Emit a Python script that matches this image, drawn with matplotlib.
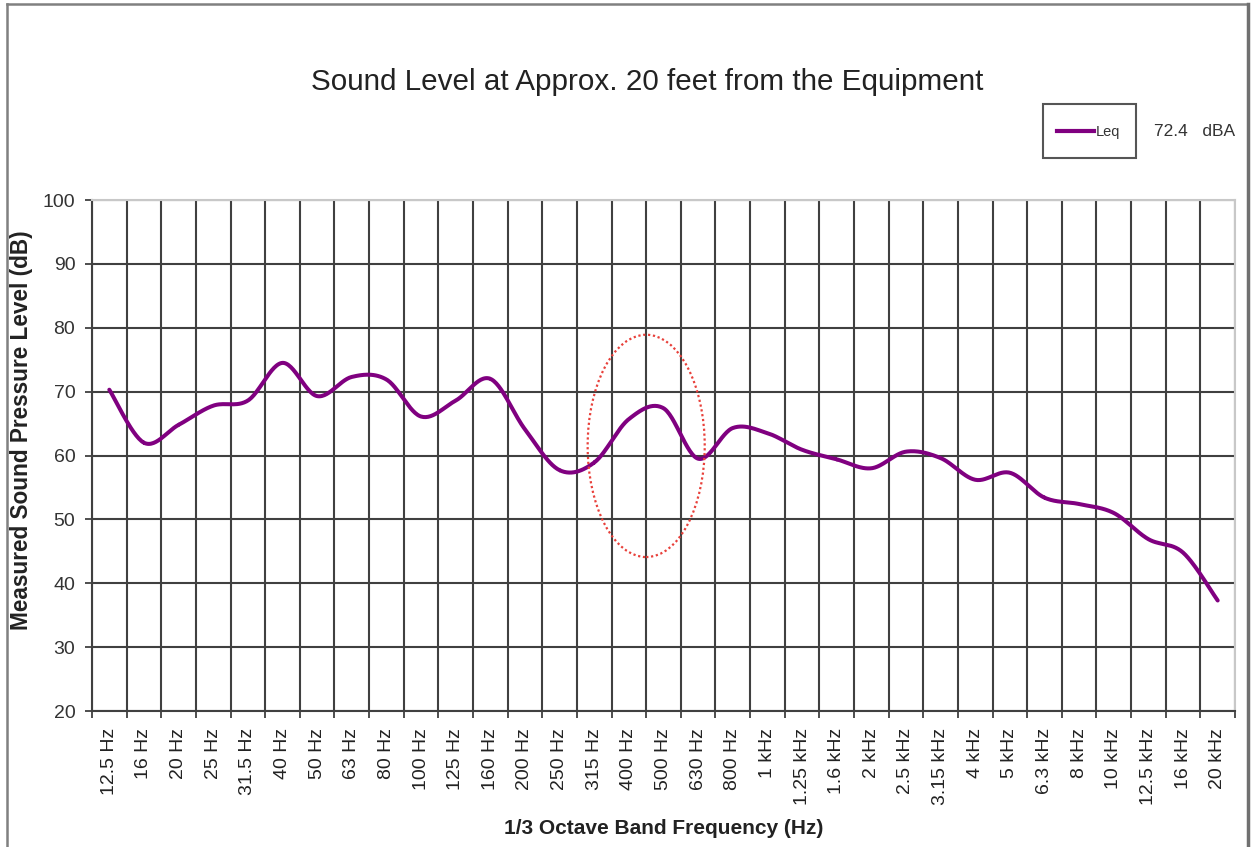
import numpy as np
import matplotlib
matplotlib.use("Agg")
import matplotlib.pyplot as plt
from matplotlib.patches import Ellipse, Rectangle
from matplotlib.lines import Line2D

plt.rcParams['font.family'] = ['Liberation Sans', 'DejaVu Sans']

categories = ["12.5 Hz", "16 Hz", "20 Hz", "25 Hz", "31.5 Hz", "40 Hz", "50 Hz", "63 Hz",
              "80 Hz", "100 Hz", "125 Hz", "160 Hz", "200 Hz", "250 Hz", "315 Hz", "400 Hz",
              "500 Hz", "630 Hz", "800 Hz", "1 kHz", "1.25 kHz", "1.6 kHz", "2 kHz", "2.5 kHz",
              "3.15 kHz", "4 kHz", "5 kHz", "6.3 kHz", "8 kHz", "10 kHz", "12.5 kHz", "16 kHz",
              "20 kHz"]
leq = [70.3, 62.0, 64.8, 67.8, 68.6, 74.5, 69.3, 72.3, 71.9, 66.1, 68.6, 72.0, 64.1,
       57.7, 58.9, 65.7, 67.4, 59.5, 64.3, 63.5, 60.9, 59.4, 58.0, 60.6, 59.6, 56.2,
       57.3, 53.4, 52.4, 51.0, 46.9, 44.8, 37.3]
series_name = "Leq"
overall_text = "72.4   dBA"
title = "Sound Level at Approx. 20 feet from the Equipment"
xlabel = "1/3 Octave Band Frequency (Hz)"
ylabel = "Measured Sound Pressure Level (dB)"
yticks = [20, 30, 40, 50, 60, 70, 80, 90, 100]

W, H = 1251, 847
fig = plt.figure(figsize=(W / 100, H / 100), dpi=100)
ax = fig.add_axes([92 / W, 1 - 711 / H, (1235 - 92) / W, (711 - 200) / H])

# smooth line (Catmull-Rom, like Excel's smoothed line)
x = np.arange(len(leq), dtype=float)
y = np.array(leq, dtype=float)
P = np.column_stack([x, y])
Pp = np.vstack([P[0], P, P[-1]])
xs, ys = [], []
for i in range(len(P) - 1):
    p0, p1, p2, p3 = Pp[i], Pp[i + 1], Pp[i + 2], Pp[i + 3]
    t = np.linspace(0, 1, 30)[:, None]
    c = 0.5 * ((2 * p1) + (-p0 + p2) * t + (2 * p0 - 5 * p1 + 4 * p2 - p3) * t ** 2
               + (-p0 + 3 * p1 - 3 * p2 + p3) * t ** 3)
    xs.extend(c[:, 0]); ys.extend(c[:, 1])
ax.plot(xs, ys, color='#800080', lw=2.9, solid_capstyle='round', zorder=4)

ax.set_xlim(-0.5, len(categories) - 0.5)
ax.set_ylim(20, 100)
ax.set_yticks(yticks)
ax.set_xticks(x)
ax.set_xticklabels(categories, rotation=90, fontsize=14, color='#222222', va='top')
ax.set_xticks(np.arange(-0.5, len(categories) + 0.5, 1.0), minor=True)
ax.tick_params(axis='x', which='major', length=0, pad=12)
ax.tick_params(axis='x', which='minor', length=5, width=1.3, color='#404040')
ax.tick_params(axis='y', which='major', length=5, width=1.3, color='#404040',
               labelsize=14, labelcolor='#333333', pad=7)
ax.grid(True, axis='y', which='major', color='#404040', lw=1.5, zorder=1)
ax.grid(True, axis='x', which='minor', color='#404040', lw=1.5, zorder=1)
for s in ['top', 'right']:
    ax.spines[s].set_color('#c8c8c8')
    ax.spines[s].set_linewidth(1.5)
for s in ['left', 'bottom']:
    ax.spines[s].set_color('#404040')
    ax.spines[s].set_linewidth(1.5)

# highlight ellipse
ax.add_patch(Ellipse((15.5, 61.5), 3.38, 34.8, fill=False, edgecolor='#e8403a',
                     lw=1.6, linestyle=(0, (1, 1.2)), zorder=5))

fig.text(647 / W, 1 - 82 / H, title, ha='center', va='center', fontsize=21.3, color='#222222')
fig.text(664 / W, 1 - 828 / H, xlabel, ha='center', va='center', fontsize=15,
         fontweight='bold', color='#222222')
fig.text(22 / W, 1 - 430 / H, ylabel, ha='center', va='center', rotation=90,
         fontsize=16.3, fontweight='bold', color='#222222')

# legend box
fig.add_artist(Rectangle((1043 / W, 1 - 158 / H), 93 / W, 54 / H, transform=fig.transFigure,
                         fill=False, edgecolor='#555555', lw=1.5))
fig.add_artist(Line2D([1057 / W, 1094 / W], [1 - 131 / H, 1 - 131 / H],
                      transform=fig.transFigure, color='#800080', lw=3.0))
fig.text(1096 / W, 1 - 132 / H, series_name, ha='left', va='center', fontsize=10.5,
         color='#333333')
fig.text(1154 / W, 1 - 131 / H, overall_text, ha='left', va='center', fontsize=12.5,
         color='#333333')

# chart-area border
fig.add_artist(Line2D([7 / W, 7 / W], [0, 1 - 4 / H], transform=fig.transFigure,
                      color='#808080', lw=1.8))
fig.add_artist(Line2D([7 / W, 1248 / W], [1 - 4 / H, 1 - 4 / H], transform=fig.transFigure,
                      color='#808080', lw=1.8))
fig.add_artist(Line2D([1248 / W, 1248 / W], [0, 1 - 4 / H], transform=fig.transFigure,
                      color='#707070', lw=2.5))

fig.savefig("out.png", dpi=100, facecolor='white')
